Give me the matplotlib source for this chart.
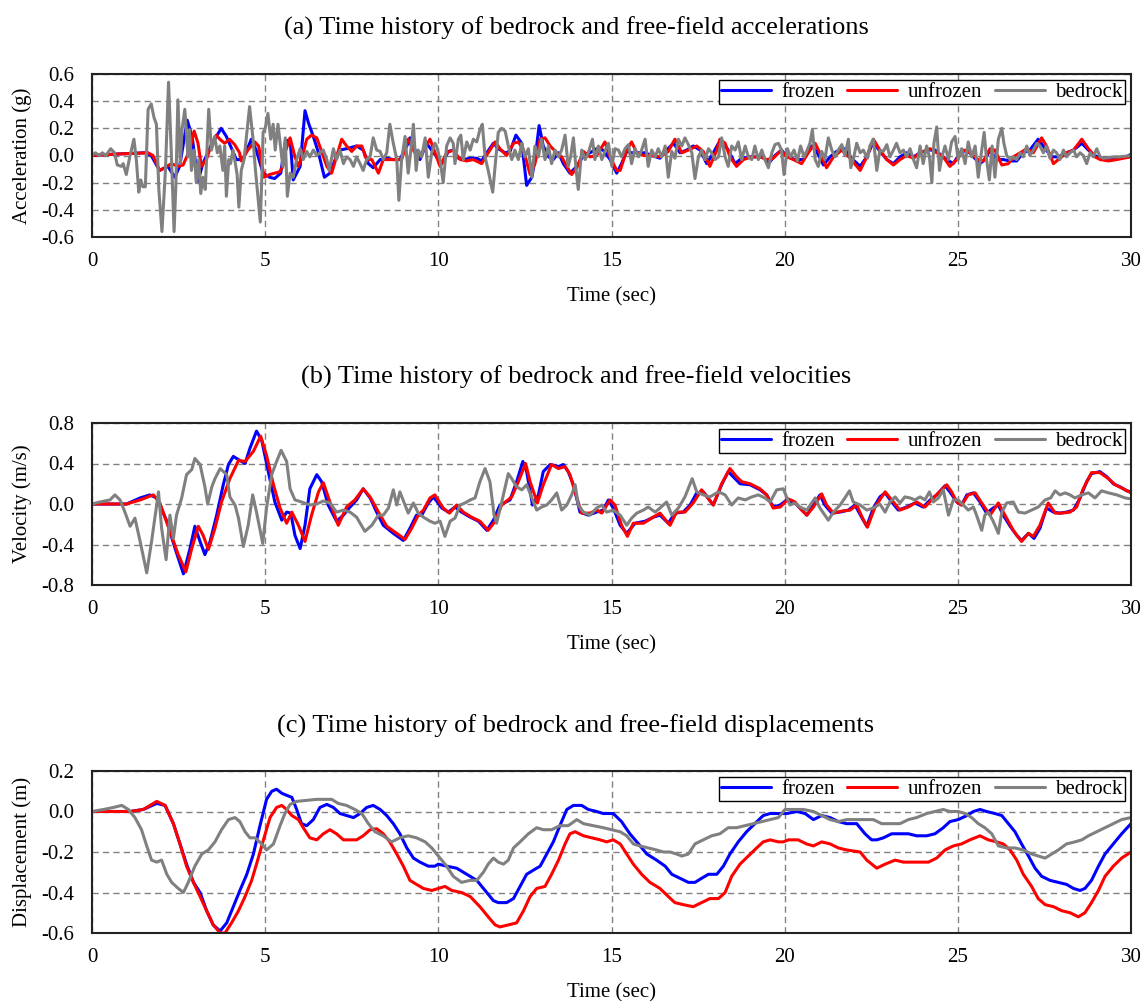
import numpy as np
import matplotlib
matplotlib.use('Agg')
import matplotlib.pyplot as plt
from matplotlib.ticker import FormatStrFormatter, FixedLocator

plt.rcParams['font.family'] = ['Liberation Serif', 'DejaVu Serif']
plt.rcParams['axes.unicode_minus'] = False

# ---------------- (a) accelerations (g) : (time s, value) ----------------
acc_frozen = [(0, 0), (0.65, 0.01), (1.52, 0.02), (1.71, 0.0), (1.95, -0.11), (2.19, -0.08), (2.39, -0.16),
    (2.53, -0.08), (2.75, 0.26), (2.89, 0.14), (3.06, -0.19), (3.20, -0.06), (3.45, 0.08), (3.73, 0.20),
    (3.88, 0.14), (4.17, -0.03), (4.36, -0.03), (4.60, 0.12), (4.74, 0.04), (4.94, -0.13), (5.13, -0.16),
    (5.27, -0.17), (5.45, -0.13), (5.58, 0.10), (5.72, 0.12), (5.81, -0.18), (6.01, -0.08), (6.15, 0.33),
    (6.25, 0.24), (6.39, 0.14), (6.54, 0.02), (6.71, -0.16), (6.87, -0.13), (7.02, -0.03), (7.16, 0.04),
    (7.35, 0.05), (7.64, 0.07), (7.83, 0.04), (7.98, -0.06), (8.12, -0.09), (8.32, -0.03), (8.51, -0.02),
    (8.70, -0.03), (8.89, -0.03), (9.09, 0.07), (9.18, 0.13), (9.33, 0.04), (9.47, -0.03), (9.66, 0.09),
    (9.95, -0.01), (10.10, -0.06), (10.29, 0.03), (10.43, 0.04), (10.58, -0.02), (10.72, -0.03),
    (10.92, -0.02), (11.11, -0.02), (11.25, -0.04), (11.40, 0.02), (11.59, 0.09), (11.73, 0.05),
    (11.93, 0.02), (12.07, 0.03), (12.24, 0.15), (12.41, 0.09), (12.55, -0.22), (12.70, -0.16),
    (12.79, -0.03), (12.91, 0.22), (13.03, 0.07), (13.18, -0.01), (13.32, -0.03), (13.47, 0.02),
    (13.61, -0.06), (13.80, -0.13), (14.0, -0.08), (14.19, 0.0), (14.38, 0.02), (14.57, 0.05),
    (14.76, 0.04), (14.96, -0.03), (15.15, -0.13), (15.29, -0.06), (15.44, 0.03), (15.58, 0.02),
    (15.78, 0.02), (15.97, 0.02), (16.16, 0.0), (16.40, -0.02), (16.59, 0.04), (16.79, 0.09), (16.98, 0.02),
    (17.17, 0.04), (17.36, 0.07), (17.56, 0.04), (17.75, -0.06), (17.94, 0.02), (18.09, 0.09), (18.23, 0.09),
    (18.37, 0.04), (18.57, -0.06), (18.76, -0.02), (19.0, -0.01), (19.19, -0.01), (19.38, -0.01),
    (19.53, -0.06), (19.72, 0.0), (19.91, 0.04), (20.06, -0.01), (20.30, -0.03), (20.54, -0.03),
    (20.78, 0.07), (20.92, 0.03), (21.12, -0.07), (21.31, -0.01), (21.50, 0.03), (21.74, 0.05),
    (21.93, -0.02), (22.18, -0.08), (22.37, -0.01), (22.56, 0.10), (22.75, 0.03), (22.95, -0.03),
    (23.14, -0.06), (23.33, -0.01), (23.52, 0.02), (23.72, -0.01), (23.91, 0.02), (24.15, 0.04),
    (24.34, 0.04), (24.53, 0.0), (24.68, -0.03), (24.87, -0.06), (25.06, 0.02), (25.26, 0.04),
    (25.45, -0.01), (25.64, -0.06), (25.78, -0.03), (25.93, 0.04), (26.12, -0.03), (26.31, -0.03),
    (26.51, -0.04), (26.70, -0.04), (26.89, 0.02), (27.08, 0.04), (27.32, 0.12), (27.52, 0.05),
    (27.71, -0.01), (27.90, -0.01), (28.14, 0.02), (28.34, 0.04), (28.58, 0.09), (28.77, 0.04),
    (28.96, 0.0), (29.11, -0.02), (29.49, -0.02), (29.87, -0.01), (30.0, 0.01)]

acc_unfrozen = [(0, 0), (0.65, 0.01), (1.62, 0.02), (1.76, 0.0), (1.95, -0.11), (2.10, -0.09), (2.29, -0.06),
    (2.48, -0.08), (2.63, -0.07), (2.82, 0.04), (2.95, 0.18), (3.06, 0.09), (3.16, -0.08), (3.30, -0.03),
    (3.45, 0.08), (3.59, 0.15), (3.69, 0.12), (3.83, 0.09), (3.97, 0.12), (4.12, 0.08), (4.26, 0.02),
    (4.31, -0.04), (4.50, 0.04), (4.70, 0.10), (4.81, 0.07), (4.97, -0.16), (5.13, -0.14), (5.27, -0.13),
    (5.42, -0.12), (5.51, -0.08), (5.57, 0.02), (5.72, 0.13), (5.86, -0.01), (5.96, -0.08), (6.10, 0.02),
    (6.20, 0.12), (6.34, 0.15), (6.49, 0.13), (6.63, 0.03), (6.78, -0.08), (6.92, -0.13), (7.06, -0.01),
    (7.21, 0.12), (7.35, 0.07), (7.50, 0.03), (7.64, 0.07), (7.79, 0.07), (7.93, -0.03), (8.08, -0.03),
    (8.27, -0.13), (8.41, -0.03), (8.60, -0.03), (8.80, -0.03), (8.94, -0.03), (9.13, 0.12), (9.28, 0.04),
    (9.42, -0.02), (9.57, 0.04), (9.76, 0.12), (9.95, -0.01), (10.05, -0.08), (10.24, 0.02), (10.43, 0.04),
    (10.63, -0.03), (10.82, -0.04), (11.01, -0.03), (11.25, -0.06), (11.44, 0.02), (11.64, 0.10),
    (11.78, 0.05), (11.97, 0.0), (12.17, 0.09), (12.31, 0.10), (12.46, 0.04), (12.65, -0.14), (12.79, -0.06),
    (12.94, 0.12), (13.08, 0.13), (13.23, 0.07), (13.42, 0.02), (13.56, -0.01), (13.71, -0.08),
    (13.85, -0.14), (14.0, -0.09), (14.19, 0.03), (14.38, -0.01), (14.57, 0.0), (14.81, 0.10),
    (14.96, -0.01), (15.15, -0.11), (15.25, -0.11), (15.44, 0.04), (15.58, 0.10), (15.73, 0.02),
    (15.92, 0.0), (16.16, 0.0), (16.40, -0.01), (16.64, 0.03), (16.83, 0.12), (17.03, 0.02), (17.22, 0.04),
    (17.46, 0.07), (17.65, 0.03), (17.84, -0.08), (18.04, 0.04), (18.13, 0.12), (18.28, 0.09),
    (18.42, -0.01), (18.61, -0.08), (18.81, -0.03), (19.05, -0.01), (19.29, -0.01), (19.48, -0.03),
    (19.67, -0.02), (19.91, 0.04), (20.01, 0.0), (20.25, -0.03), (20.49, -0.06), (20.68, 0.02),
    (20.88, 0.09), (21.07, -0.01), (21.21, -0.09), (21.41, -0.01), (21.65, 0.04), (21.89, -0.02),
    (22.18, -0.11), (22.37, -0.01), (22.56, 0.12), (22.75, 0.04), (22.95, -0.03), (23.14, -0.07),
    (23.33, -0.03), (23.52, 0.0), (23.72, -0.02), (23.91, 0.02), (24.20, 0.05), (24.39, 0.02),
    (24.58, -0.01), (24.77, -0.08), (24.97, -0.03), (25.16, 0.04), (25.35, 0.02), (25.59, -0.03),
    (25.74, -0.04), (25.93, 0.05), (26.07, 0.04), (26.27, -0.07), (26.46, -0.06), (26.60, -0.01),
    (26.80, 0.02), (26.99, 0.05), (27.18, 0.02), (27.42, 0.13), (27.56, 0.07), (27.76, -0.06),
    (27.95, -0.02), (28.14, 0.02), (28.34, 0.04), (28.58, 0.12), (28.77, 0.05), (28.96, -0.01),
    (29.11, -0.03), (29.35, -0.04), (29.59, -0.03), (29.78, -0.02), (30.0, -0.01)]

acc_bedrock = [(0, 0), (0.1, 0.02), (0.2, 0.0), (0.3, 0.02), (0.4, 0.0), (0.54, 0.05), (0.65, 0.02),
    (0.73, -0.07), (0.85, -0.08), (0.90, -0.06), (0.99, -0.14), (1.09, -0.01), (1.21, 0.12), (1.28, -0.03),
    (1.35, -0.27), (1.41, -0.18), (1.47, -0.23), (1.54, -0.23), (1.62, 0.34), (1.71, 0.38), (1.79, 0.28),
    (1.86, 0.23), (1.93, -0.25), (2.02, -0.56), (2.12, -0.11), (2.21, 0.54), (2.29, 0.02), (2.37, -0.56),
    (2.42, -0.23), (2.48, 0.41), (2.55, -0.06), (2.60, 0.19), (2.68, 0.34), (2.73, 0.14), (2.77, -0.01),
    (2.82, 0.19), (2.87, -0.11), (2.95, 0.04), (3.01, -0.20), (3.08, -0.03), (3.14, -0.28), (3.20, -0.16),
    (3.27, -0.25), (3.37, 0.34), (3.45, 0.04), (3.54, 0.14), (3.62, 0.02), (3.69, 0.07), (3.78, -0.11),
    (3.83, 0.07), (3.88, -0.30), (3.95, -0.03), (4.00, -0.06), (4.07, 0.04), (4.12, -0.03), (4.19, -0.14),
    (4.24, -0.38), (4.31, -0.11), (4.39, -0.03), (4.46, 0.14), (4.55, 0.36), (4.60, 0.24), (4.65, 0.12),
    (4.72, -0.11), (4.79, -0.30), (4.86, -0.49), (4.91, -0.11), (4.94, 0.17), (5.00, 0.20), (5.08, 0.31),
    (5.16, 0.12), (5.23, 0.23), (5.29, 0.04), (5.37, 0.23), (5.45, 0.05), (5.51, -0.08), (5.58, 0.13),
    (5.64, -0.30), (5.72, -0.13), (5.81, -0.16), (5.91, -0.03), (6.01, 0.05), (6.10, -0.03), (6.20, 0.03),
    (6.29, -0.01), (6.39, 0.04), (6.49, 0.0), (6.58, 0.02), (6.68, 0.04), (6.78, -0.03), (6.85, -0.11),
    (6.97, 0.05), (7.06, -0.03), (7.16, 0.04), (7.26, -0.06), (7.35, -0.01), (7.45, -0.03), (7.55, -0.08),
    (7.64, -0.01), (7.74, -0.06), (7.83, -0.11), (7.93, -0.03), (8.03, -0.01), (8.12, 0.13), (8.22, 0.04),
    (8.32, 0.03), (8.41, -0.03), (8.51, 0.02), (8.60, 0.23), (8.70, 0.09), (8.80, -0.03), (8.86, -0.33),
    (8.94, -0.03), (9.04, 0.14), (9.13, -0.13), (9.23, 0.09), (9.28, 0.23), (9.36, -0.11), (9.42, 0.04),
    (9.52, -0.01), (9.62, 0.13), (9.71, -0.16), (9.81, 0.02), (9.90, 0.09), (9.95, 0.07), (10.05, -0.03),
    (10.14, -0.20), (10.24, 0.07), (10.34, 0.13), (10.43, 0.09), (10.48, -0.06), (10.58, 0.12),
    (10.65, 0.15), (10.72, -0.03), (10.82, 0.10), (10.92, 0.04), (11.01, 0.12), (11.11, 0.10),
    (11.20, 0.19), (11.27, 0.23), (11.35, -0.01), (11.44, -0.11), (11.57, -0.27), (11.64, -0.08),
    (11.73, 0.17), (11.83, 0.20), (11.93, 0.18), (12.02, 0.07), (12.12, -0.03), (12.21, 0.04),
    (12.31, -0.03), (12.41, 0.09), (12.50, -0.01), (12.60, 0.05), (12.70, -0.16), (12.79, 0.07),
    (12.89, -0.01), (12.98, 0.12), (13.08, -0.03), (13.18, 0.07), (13.27, -0.06), (13.37, 0.04),
    (13.47, -0.01), (13.56, 0.04), (13.66, 0.15), (13.75, -0.08), (13.82, -0.01), (13.90, 0.13),
    (13.98, -0.11), (14.04, -0.25), (14.14, 0.04), (14.24, -0.03), (14.33, 0.02), (14.45, 0.12),
    (14.52, -0.03), (14.62, 0.07), (14.72, -0.03), (14.81, 0.03), (14.91, 0.09), (15.01, -0.08),
    (15.10, 0.05), (15.20, 0.04), (15.29, -0.01), (15.39, 0.05), (15.49, 0.08), (15.58, -0.06),
    (15.68, 0.05), (15.78, -0.01), (15.87, 0.04), (15.97, 0.12), (16.06, -0.08), (16.16, 0.04),
    (16.26, -0.01), (16.35, 0.05), (16.45, -0.01), (16.55, 0.07), (16.64, -0.16), (16.74, 0.03),
    (16.83, -0.02), (16.93, 0.12), (17.03, 0.07), (17.12, 0.13), (17.22, 0.08), (17.32, 0.02),
    (17.41, -0.17), (17.51, -0.01), (17.60, 0.04), (17.70, -0.03), (17.80, 0.05), (17.89, 0.02),
    (17.99, -0.03), (18.09, -0.01), (18.18, 0.13), (18.28, -0.01), (18.37, -0.08), (18.47, 0.07),
    (18.57, 0.04), (18.66, 0.10), (18.76, -0.03), (18.86, 0.07), (18.95, -0.01), (19.05, -0.03),
    (19.14, 0.07), (19.24, -0.03), (19.34, 0.04), (19.43, -0.03), (19.53, -0.09), (19.63, 0.02),
    (19.72, 0.08), (19.82, 0.09), (19.91, 0.04), (19.98, -0.14), (20.08, 0.05), (20.17, -0.01),
    (20.27, 0.04), (20.37, -0.04), (20.46, 0.07), (20.56, -0.01), (20.65, 0.04), (20.73, 0.09),
    (20.80, 0.19), (20.88, -0.03), (20.97, -0.08), (21.07, 0.03), (21.16, -0.03), (21.26, 0.13),
    (21.36, 0.04), (21.45, -0.01), (21.55, 0.04), (21.65, 0.08), (21.74, 0.0), (21.84, 0.12),
    (21.91, -0.09), (21.98, -0.03), (22.08, 0.09), (22.18, 0.02), (22.27, 0.04), (22.39, -0.02),
    (22.46, 0.07), (22.56, 0.12), (22.66, -0.11), (22.75, 0.04), (22.85, 0.03), (22.95, 0.08),
    (23.04, -0.01), (23.14, 0.04), (23.23, 0.09), (23.33, 0.02), (23.43, 0.04), (23.52, -0.01),
    (23.62, 0.05), (23.72, -0.03), (23.81, -0.09), (23.91, 0.07), (24.0, -0.06), (24.10, 0.07),
    (24.18, -0.01), (24.25, -0.20), (24.31, 0.09), (24.39, 0.21), (24.47, -0.11), (24.54, -0.01),
    (24.63, 0.07), (24.73, -0.03), (24.82, 0.10), (24.92, 0.14), (25.01, -0.03), (25.11, 0.05),
    (25.21, -0.06), (25.30, 0.10), (25.40, -0.01), (25.50, 0.07), (25.59, -0.16), (25.69, 0.04),
    (25.76, 0.17), (25.83, -0.03), (25.91, -0.18), (25.99, 0.07), (26.07, -0.16), (26.17, 0.12),
    (26.27, 0.20), (26.33, 0.09), (26.41, 0.0), (26.51, -0.03), (26.60, -0.01), (26.70, -0.03),
    (26.80, 0.02), (26.89, -0.01), (26.99, 0.07), (27.08, 0.0), (27.18, 0.04), (27.28, 0.09),
    (27.37, 0.07), (27.47, 0.02), (27.56, 0.07), (27.66, -0.02), (27.76, 0.04), (27.85, 0.02),
    (27.95, -0.03), (28.05, 0.04), (28.14, -0.01), (28.24, 0.02), (28.34, 0.04), (28.43, -0.01),
    (28.53, 0.02), (28.62, 0.0), (28.72, -0.06), (28.82, 0.02), (28.91, -0.01), (29.01, 0.05),
    (29.11, -0.01), (29.20, -0.02), (29.49, -0.01), (29.68, -0.01), (30.0, 0.0)]

# ---------------- (b) velocities (m/s) ----------------
vel_frozen = [(0, 0), (1.0, 0.0), (1.39, 0.06), (1.67, 0.09), (1.87, 0.06), (2.16, -0.17), (2.40, -0.44),
    (2.64, -0.69), (2.83, -0.44), (2.97, -0.22), (3.12, -0.37), (3.26, -0.50), (3.41, -0.37), (3.60, -0.11),
    (3.79, 0.19), (3.94, 0.39), (4.08, 0.47), (4.27, 0.43), (4.42, 0.40), (4.56, 0.55), (4.75, 0.72),
    (4.90, 0.63), (5.09, 0.32), (5.28, 0.02), (5.48, -0.16), (5.62, -0.08), (5.74, -0.09), (5.86, -0.31),
    (6.01, -0.44), (6.15, -0.21), (6.29, 0.15), (6.49, 0.29), (6.63, 0.22), (6.82, -0.01), (7.06, -0.17),
    (7.26, -0.11), (7.45, -0.03), (7.64, 0.04), (7.83, 0.15), (8.03, 0.06), (8.22, -0.08), (8.41, -0.21),
    (8.70, -0.29), (8.99, -0.36), (9.18, -0.24), (9.37, -0.11), (9.52, -0.11), (9.71, 0.01), (9.86, 0.07),
    (10.10, -0.04), (10.29, -0.08), (10.48, -0.03), (10.67, -0.08), (10.92, -0.13), (11.16, -0.17),
    (11.40, -0.26), (11.59, -0.16), (11.78, -0.01), (12.07, 0.04), (12.26, 0.22), (12.44, 0.42),
    (12.55, 0.32), (12.72, -0.01), (12.89, 0.09), (13.03, 0.32), (13.23, 0.39), (13.47, 0.37),
    (13.61, 0.39), (13.75, 0.32), (13.90, 0.19), (14.09, -0.08), (14.33, -0.11), (14.57, -0.08),
    (14.76, -0.06), (14.91, 0.04), (15.05, -0.04), (15.25, -0.21), (15.44, -0.29), (15.68, -0.19),
    (15.97, -0.17), (16.21, -0.13), (16.40, -0.11), (16.64, -0.19), (16.83, -0.09), (17.07, -0.08),
    (17.27, -0.01), (17.46, 0.11), (17.65, 0.12), (17.94, -0.01), (18.18, 0.19), (18.37, 0.32),
    (18.57, 0.25), (18.71, 0.20), (19.0, 0.19), (19.29, 0.14), (19.48, 0.09), (19.67, -0.03),
    (19.87, -0.01), (20.06, 0.04), (20.30, 0.01), (20.44, -0.04), (20.64, -0.11), (20.83, -0.01),
    (21.02, 0.09), (21.16, -0.01), (21.36, -0.09), (21.60, -0.08), (21.84, -0.06), (22.03, -0.01),
    (22.22, -0.13), (22.37, -0.22), (22.56, -0.04), (22.75, 0.07), (22.90, 0.11), (23.09, 0.02),
    (23.28, -0.06), (23.52, -0.03), (23.76, 0.01), (24.0, -0.03), (24.20, 0.04), (24.39, 0.09),
    (24.63, 0.18), (24.77, 0.12), (24.97, 0.02), (25.11, -0.01), (25.26, 0.09), (25.45, 0.11),
    (25.64, 0.02), (25.83, -0.09), (26.02, -0.04), (26.17, -0.01), (26.31, -0.11), (26.51, -0.22),
    (26.70, -0.31), (26.84, -0.36), (27.04, -0.29), (27.20, -0.34), (27.37, -0.24), (27.56, -0.04),
    (27.76, -0.08), (27.95, -0.09), (28.14, -0.08), (28.34, -0.06), (28.53, 0.06), (28.72, 0.22),
    (28.86, 0.30), (29.10, 0.32), (29.30, 0.27), (29.49, 0.20), (29.68, 0.17), (29.88, 0.13), (30.0, 0.12)]

vel_unfrozen = [(0, 0), (1.0, 0.0), (1.39, 0.04), (1.77, 0.09), (1.96, 0.01), (2.25, -0.27), (2.49, -0.50),
    (2.71, -0.67), (2.88, -0.44), (3.07, -0.22), (3.21, -0.31), (3.36, -0.45), (3.55, -0.24), (3.74, 0.02),
    (3.98, 0.25), (4.23, 0.43), (4.42, 0.42), (4.66, 0.52), (4.87, 0.67), (5.04, 0.48), (5.24, 0.19),
    (5.43, -0.04), (5.62, -0.19), (5.77, -0.08), (5.96, -0.21), (6.15, -0.37), (6.34, -0.11), (6.54, 0.12),
    (6.68, 0.21), (6.87, 0.02), (7.11, -0.21), (7.35, -0.03), (7.59, 0.04), (7.83, 0.15), (8.03, 0.07),
    (8.27, -0.08), (8.51, -0.22), (8.80, -0.29), (9.04, -0.35), (9.23, -0.24), (9.42, -0.11), (9.57, -0.06),
    (9.76, 0.06), (9.90, 0.09), (10.14, -0.04), (10.32, -0.09), (10.53, -0.01), (10.72, -0.08),
    (10.96, -0.13), (11.20, -0.17), (11.44, -0.26), (11.64, -0.17), (11.83, -0.01), (12.12, 0.07),
    (12.31, 0.22), (12.52, 0.40), (12.65, 0.22), (12.86, 0.01), (13.03, 0.19), (13.27, 0.39),
    (13.47, 0.35), (13.66, 0.37), (13.80, 0.29), (14.0, 0.06), (14.14, -0.09), (14.38, -0.09),
    (14.57, -0.06), (14.72, -0.09), (14.96, 0.04), (15.10, -0.01), (15.29, -0.21), (15.46, -0.32),
    (15.63, -0.19), (15.92, -0.19), (16.16, -0.14), (16.40, -0.09), (16.69, -0.21), (16.88, -0.08),
    (17.12, -0.08), (17.36, 0.01), (17.60, 0.14), (17.94, -0.01), (18.18, 0.20), (18.42, 0.35),
    (18.61, 0.27), (18.76, 0.22), (19.0, 0.20), (19.29, 0.15), (19.48, 0.09), (19.67, -0.04),
    (19.87, -0.03), (20.11, 0.05), (20.30, 0.02), (20.49, -0.06), (20.64, -0.11), (20.83, -0.03),
    (21.07, 0.10), (21.21, -0.01), (21.41, -0.09), (21.65, -0.07), (21.89, -0.06), (22.08, -0.01),
    (22.25, -0.14), (22.39, -0.23), (22.61, -0.03), (22.90, 0.12), (23.09, 0.04), (23.33, -0.06),
    (23.57, -0.03), (23.81, 0.02), (24.05, -0.03), (24.24, 0.04), (24.44, 0.11), (24.68, 0.19),
    (24.82, 0.12), (24.97, 0.02), (25.11, -0.01), (25.30, 0.09), (25.50, 0.11), (25.69, 0.01),
    (25.93, -0.11), (26.17, 0.01), (26.36, -0.11), (26.60, -0.26), (26.84, -0.37), (27.04, -0.29),
    (27.18, -0.32), (27.37, -0.21), (27.61, 0.01), (27.81, -0.09), (28.0, -0.09), (28.24, -0.08),
    (28.43, -0.03), (28.62, 0.15), (28.86, 0.31), (29.10, 0.31), (29.35, 0.25), (29.54, 0.19),
    (29.78, 0.15), (30.0, 0.11)]

vel_bedrock = [(0, 0), (0.23, 0.02), (0.52, 0.04), (0.66, 0.09), (0.81, 0.04), (0.95, -0.08), (1.10, -0.22),
    (1.24, -0.14), (1.39, -0.37), (1.58, -0.68), (1.72, -0.37), (1.92, 0.12), (2.01, -0.24), (2.14, -0.55),
    (2.25, -0.11), (2.35, -0.34), (2.44, -0.11), (2.59, 0.06), (2.73, 0.29), (2.88, 0.34), (2.97, 0.45),
    (3.12, 0.39), (3.26, 0.17), (3.34, 0.0), (3.46, 0.17), (3.55, 0.25), (3.70, 0.35), (3.89, 0.29),
    (3.98, 0.07), (4.13, -0.01), (4.23, -0.14), (4.37, -0.42), (4.51, -0.21), (4.64, 0.09), (4.75, -0.08),
    (4.93, -0.39), (5.04, -0.04), (5.19, 0.29), (5.33, 0.42), (5.46, 0.53), (5.62, 0.42), (5.72, 0.15),
    (5.86, 0.04), (6.05, 0.02), (6.29, -0.01), (6.49, 0.0), (6.68, 0.03), (6.87, 0.01), (7.06, -0.08),
    (7.26, -0.06), (7.45, -0.08), (7.64, -0.13), (7.88, -0.27), (8.08, -0.21), (8.27, -0.11), (8.41, -0.11),
    (8.56, -0.04), (8.70, 0.14), (8.80, -0.01), (8.89, 0.12), (9.04, -0.01), (9.13, -0.09), (9.28, 0.01),
    (9.42, -0.09), (9.57, -0.13), (9.76, -0.17), (9.90, -0.19), (10.05, -0.17), (10.19, -0.32),
    (10.34, -0.17), (10.48, -0.14), (10.63, -0.01), (10.77, 0.01), (10.92, 0.04), (11.06, 0.06),
    (11.20, 0.22), (11.35, 0.35), (11.49, 0.22), (11.61, -0.11), (11.68, -0.19), (11.83, 0.02),
    (12.02, 0.30), (12.12, 0.25), (12.26, 0.17), (12.41, 0.14), (12.55, 0.19), (12.70, 0.06),
    (12.84, -0.06), (12.98, -0.03), (13.13, -0.01), (13.27, 0.04), (13.42, 0.11), (13.56, -0.06),
    (13.71, -0.01), (13.85, 0.09), (13.95, 0.19), (14.04, -0.01), (14.19, -0.08), (14.38, -0.11),
    (14.57, -0.04), (14.72, -0.01), (14.86, -0.08), (15.05, -0.06), (15.25, -0.11), (15.44, -0.21),
    (15.58, -0.14), (15.73, -0.09), (15.92, -0.06), (16.06, -0.03), (16.26, -0.08), (16.40, -0.04),
    (16.59, 0.02), (16.74, -0.11), (16.93, -0.04), (17.12, 0.07), (17.33, 0.25), (17.46, 0.12),
    (17.65, 0.09), (17.84, 0.07), (18.09, 0.12), (18.28, 0.09), (18.47, -0.01), (18.66, 0.06),
    (18.86, 0.04), (19.05, 0.07), (19.24, 0.09), (19.43, 0.06), (19.58, 0.02), (19.77, 0.14),
    (19.96, 0.15), (20.15, -0.01), (20.30, 0.01), (20.44, -0.03), (20.64, -0.06), (20.78, 0.01),
    (20.88, 0.06), (21.02, -0.04), (21.26, -0.16), (21.41, -0.08), (21.60, -0.01), (21.74, 0.06),
    (21.87, 0.13), (21.98, 0.02), (22.18, -0.01), (22.37, -0.06), (22.56, -0.04), (22.75, 0.0),
    (22.90, -0.08), (23.04, 0.02), (23.19, 0.07), (23.33, 0.01), (23.47, 0.07), (23.62, 0.06),
    (23.76, 0.04), (23.91, 0.07), (24.05, 0.04), (24.18, 0.12), (24.29, 0.02), (24.44, 0.06),
    (24.58, 0.14), (24.73, -0.11), (24.87, 0.04), (25.01, 0.04), (25.16, -0.01), (25.30, -0.06),
    (25.45, -0.03), (25.54, -0.11), (25.69, -0.26), (25.78, -0.11), (25.88, -0.08), (26.02, -0.17),
    (26.17, -0.29), (26.27, -0.08), (26.41, 0.01), (26.60, 0.02), (26.75, -0.08), (26.94, -0.09),
    (27.13, -0.06), (27.32, -0.03), (27.52, 0.04), (27.68, 0.06), (27.81, 0.13), (27.95, 0.09),
    (28.10, 0.11), (28.24, 0.09), (28.38, 0.06), (28.58, 0.09), (28.77, 0.11), (28.96, 0.06),
    (29.15, 0.13), (29.35, 0.11), (29.59, 0.09), (29.83, 0.06), (30.0, 0.05)]

# ---------------- (c) displacements (m) ----------------
dis_frozen = [(0, 0), (0.62, 0.0), (1.10, 0.0), (1.48, 0.01), (1.87, 0.04), (2.11, 0.03), (2.35, -0.06),
    (2.54, -0.16), (2.73, -0.26), (2.93, -0.35), (3.12, -0.40), (3.31, -0.49), (3.50, -0.56), (3.70, -0.59),
    (3.89, -0.55), (4.08, -0.47), (4.27, -0.39), (4.47, -0.31), (4.66, -0.21), (4.85, -0.07), (5.04, 0.06),
    (5.19, 0.10), (5.33, 0.11), (5.48, 0.09), (5.62, 0.08), (5.77, 0.07), (5.91, 0.01), (6.05, -0.06),
    (6.20, -0.07), (6.39, -0.04), (6.58, 0.02), (6.78, 0.035), (6.97, 0.02), (7.16, -0.01), (7.35, -0.02),
    (7.55, -0.03), (7.74, -0.01), (7.93, 0.02), (8.12, 0.03), (8.32, 0.01), (8.51, -0.02), (8.70, -0.06),
    (8.89, -0.11), (9.09, -0.18), (9.28, -0.23), (9.47, -0.25), (9.71, -0.27), (9.90, -0.27), (10.0, -0.26),
    (10.24, -0.27), (10.53, -0.28), (10.82, -0.31), (11.11, -0.34), (11.35, -0.39), (11.59, -0.44),
    (11.73, -0.45), (11.97, -0.45), (12.17, -0.43), (12.36, -0.37), (12.55, -0.31), (12.74, -0.29),
    (12.94, -0.27), (13.13, -0.21), (13.32, -0.15), (13.51, -0.07), (13.71, 0.01), (13.90, 0.03),
    (14.14, 0.03), (14.33, 0.01), (14.57, 0.0), (14.76, -0.01), (15.05, -0.01), (15.29, -0.05),
    (15.53, -0.11), (15.78, -0.16), (16.02, -0.21), (16.30, -0.24), (16.55, -0.27), (16.74, -0.31),
    (16.98, -0.33), (17.22, -0.35), (17.41, -0.35), (17.60, -0.33), (17.80, -0.31), (18.04, -0.31),
    (18.23, -0.27), (18.42, -0.21), (18.66, -0.15), (18.90, -0.10), (19.14, -0.06), (19.38, -0.02),
    (19.58, -0.01), (19.77, -0.01), (19.96, -0.01), (20.06, -0.01), (20.35, 0.0), (20.59, -0.01),
    (20.83, -0.04), (21.07, -0.02), (21.31, -0.03), (21.55, -0.05), (21.79, -0.06), (22.08, -0.06),
    (22.32, -0.11), (22.51, -0.14), (22.66, -0.14), (22.85, -0.13), (23.09, -0.11), (23.33, -0.11),
    (23.57, -0.11), (23.81, -0.12), (24.10, -0.12), (24.34, -0.11), (24.58, -0.08), (24.77, -0.05),
    (25.01, -0.04), (25.26, -0.02), (25.45, 0.0), (25.64, 0.01), (25.83, 0.0), (26.07, -0.01),
    (26.27, -0.02), (26.46, -0.06), (26.65, -0.10), (26.84, -0.16), (27.04, -0.22), (27.23, -0.28),
    (27.42, -0.32), (27.66, -0.34), (27.90, -0.35), (28.14, -0.36), (28.34, -0.38), (28.53, -0.39),
    (28.67, -0.38), (28.86, -0.34), (29.06, -0.27), (29.25, -0.21), (29.49, -0.16), (29.73, -0.11),
    (30.0, -0.06)]

dis_unfrozen = [(0, 0), (0.62, 0.0), (1.10, 0.0), (1.48, 0.01), (1.87, 0.05), (2.11, 0.03), (2.35, -0.06),
    (2.54, -0.16), (2.73, -0.27), (2.93, -0.35), (3.12, -0.42), (3.31, -0.49), (3.50, -0.56), (3.70, -0.60),
    (3.84, -0.60), (4.03, -0.55), (4.23, -0.49), (4.42, -0.42), (4.61, -0.34), (4.75, -0.26), (4.95, -0.14),
    (5.14, -0.03), (5.33, 0.02), (5.48, 0.03), (5.62, 0.01), (5.77, -0.02), (5.96, -0.04), (6.10, -0.08),
    (6.29, -0.13), (6.49, -0.14), (6.68, -0.11), (6.87, -0.09), (7.06, -0.11), (7.26, -0.14), (7.45, -0.14),
    (7.64, -0.14), (7.83, -0.12), (8.03, -0.09), (8.22, -0.085), (8.41, -0.11), (8.60, -0.15),
    (8.80, -0.21), (8.99, -0.27), (9.18, -0.34), (9.37, -0.36), (9.57, -0.38), (9.81, -0.39),
    (10.0, -0.38), (10.19, -0.37), (10.39, -0.39), (10.67, -0.40), (10.92, -0.42), (11.20, -0.47),
    (11.44, -0.52), (11.64, -0.56), (11.78, -0.57), (12.02, -0.56), (12.26, -0.55), (12.46, -0.49),
    (12.65, -0.42), (12.84, -0.38), (13.08, -0.37), (13.27, -0.31), (13.47, -0.24), (13.66, -0.16),
    (13.80, -0.11), (13.95, -0.10), (14.19, -0.12), (14.43, -0.13), (14.67, -0.14), (14.86, -0.15),
    (15.05, -0.14), (15.25, -0.16), (15.44, -0.21), (15.63, -0.26), (15.87, -0.31), (16.11, -0.35),
    (16.40, -0.38), (16.64, -0.42), (16.83, -0.45), (17.07, -0.46), (17.36, -0.47), (17.60, -0.45),
    (17.84, -0.43), (18.09, -0.43), (18.28, -0.40), (18.47, -0.32), (18.71, -0.26), (18.95, -0.22),
    (19.19, -0.18), (19.38, -0.15), (19.58, -0.14), (19.82, -0.15), (19.96, -0.15), (20.11, -0.14),
    (20.39, -0.14), (20.63, -0.16), (20.83, -0.17), (21.07, -0.15), (21.31, -0.16), (21.55, -0.18),
    (21.79, -0.19), (22.18, -0.20), (22.37, -0.24), (22.66, -0.28), (22.90, -0.26), (23.19, -0.24),
    (23.43, -0.25), (23.72, -0.25), (24.15, -0.25), (24.39, -0.23), (24.63, -0.19), (24.87, -0.17),
    (25.11, -0.16), (25.35, -0.14), (25.64, -0.12), (25.88, -0.14), (26.12, -0.15), (26.31, -0.16),
    (26.51, -0.19), (26.70, -0.24), (26.89, -0.31), (27.13, -0.37), (27.32, -0.43), (27.52, -0.46),
    (27.76, -0.47), (28.0, -0.49), (28.24, -0.50), (28.48, -0.52), (28.67, -0.50), (28.86, -0.45),
    (29.06, -0.39), (29.25, -0.32), (29.49, -0.27), (29.73, -0.23), (30.0, -0.20)]

dis_bedrock = [(0, 0), (0.33, 0.01), (0.62, 0.02), (0.86, 0.03), (1.05, 0.01), (1.24, -0.03), (1.43, -0.09),
    (1.58, -0.17), (1.72, -0.24), (1.87, -0.25), (2.01, -0.24), (2.16, -0.31), (2.30, -0.35), (2.49, -0.38),
    (2.64, -0.40), (2.78, -0.35), (2.97, -0.27), (3.17, -0.21), (3.36, -0.19), (3.55, -0.15), (3.74, -0.09),
    (3.94, -0.04), (4.13, -0.03), (4.27, -0.05), (4.42, -0.10), (4.56, -0.13), (4.71, -0.13), (4.90, -0.16),
    (5.04, -0.19), (5.24, -0.16), (5.43, -0.07), (5.57, -0.01), (5.72, 0.035), (5.91, 0.05), (6.20, 0.055),
    (6.49, 0.06), (6.78, 0.06), (6.92, 0.06), (7.11, 0.04), (7.35, 0.03), (7.59, 0.01), (7.79, -0.01),
    (7.98, -0.06), (8.17, -0.10), (8.41, -0.12), (8.65, -0.15), (8.89, -0.13), (9.13, -0.12), (9.37, -0.13),
    (9.62, -0.15), (9.81, -0.18), (10.0, -0.22), (10.24, -0.27), (10.43, -0.32), (10.67, -0.35),
    (10.92, -0.34), (11.11, -0.34), (11.30, -0.30), (11.44, -0.26), (11.59, -0.23), (11.73, -0.25),
    (11.88, -0.26), (12.02, -0.24), (12.17, -0.18), (12.36, -0.15), (12.60, -0.11), (12.84, -0.08),
    (13.03, -0.09), (13.27, -0.09), (13.51, -0.07), (13.75, -0.07), (14.0, -0.04), (14.19, -0.06),
    (14.48, -0.07), (14.76, -0.08), (15.01, -0.09), (15.25, -0.10), (15.44, -0.12), (15.63, -0.16),
    (15.82, -0.17), (16.06, -0.18), (16.30, -0.19), (16.50, -0.20), (16.69, -0.20), (16.88, -0.21),
    (17.03, -0.22), (17.22, -0.21), (17.41, -0.16), (17.65, -0.14), (17.89, -0.12), (18.13, -0.11),
    (18.37, -0.08), (18.61, -0.08), (18.86, -0.07), (19.10, -0.06), (19.34, -0.05), (19.58, -0.04),
    (19.82, -0.03), (20.01, 0.01), (20.30, 0.01), (20.54, 0.01), (20.83, 0.0), (21.07, -0.02),
    (21.31, -0.04), (21.55, -0.05), (21.79, -0.04), (22.03, -0.04), (22.27, -0.04), (22.56, -0.04),
    (22.80, -0.06), (23.04, -0.06), (23.33, -0.06), (23.57, -0.04), (23.81, -0.03), (24.10, -0.01),
    (24.34, 0.0), (24.58, 0.01), (24.77, 0.0), (25.01, 0.0), (25.21, -0.01), (25.40, -0.03), (25.59, -0.06),
    (25.78, -0.08), (25.98, -0.11), (26.17, -0.17), (26.41, -0.18), (26.65, -0.18), (26.89, -0.19),
    (27.13, -0.21), (27.32, -0.22), (27.52, -0.23), (27.71, -0.21), (27.90, -0.19), (28.14, -0.16),
    (28.38, -0.15), (28.58, -0.14), (28.77, -0.12), (29.01, -0.10), (29.25, -0.08), (29.49, -0.06),
    (29.73, -0.04), (30.0, -0.03)]

titles = ['(a) Time history of bedrock and free-field accelerations',
          '(b) Time history of bedrock and free-field velocities',
          '(c) Time history of bedrock and free-field displacements']
ylabels = ['Acceleration (g)', 'Velocity (m/s)', 'Displacement (m)']
yticks = [[-0.6, -0.4, -0.2, 0.0, 0.2, 0.4, 0.6],
          [-0.8, -0.4, 0.0, 0.4, 0.8],
          [-0.6, -0.4, -0.2, 0.0, 0.2]]
xticks = [0, 5, 10, 15, 20, 25, 30]
series_names = ['frozen', 'unfrozen', 'bedrock']
series_colors = ['#0000FF', '#FF0000', '#808080']
panels = [(acc_frozen, acc_unfrozen, acc_bedrock),
          (vel_frozen, vel_unfrozen, vel_bedrock),
          (dis_frozen, dis_unfrozen, dis_bedrock)]

W, H = 1145, 1001
fig = plt.figure(figsize=(W / 100, H / 100), dpi=100)

# axes boxes in pixel coordinates: (left, top, right, bottom)
boxes = [(92, 74, 1131, 237), (92, 423, 1131, 585), (92, 771, 1131, 933)]
title_y = [28, 377, 726]

for i in range(3):
    l, t, r, b = boxes[i]
    ax = fig.add_axes([l / W, 1 - b / H, (r - l) / W, (b - t) / H])
    for data, name, col in zip(panels[i], series_names, series_colors):
        arr = np.array(data)
        ax.plot(arr[:, 0], arr[:, 1], color=col, lw=2.2, label=name,
                solid_joinstyle='round', solid_capstyle='round')
    ax.set_xlim(0, 30)
    ax.set_ylim(yticks[i][0], yticks[i][-1])
    ax.xaxis.set_major_locator(FixedLocator(xticks))
    ax.yaxis.set_major_locator(FixedLocator(yticks[i]))
    ax.yaxis.set_major_formatter(FormatStrFormatter('%.1f'))
    ax.xaxis.set_major_formatter(FormatStrFormatter('%d'))
    ax.grid(True, linestyle=(0, (4.5, 3)), color='#808080', lw=1.0)
    ax.set_axisbelow(True)
    ax.tick_params(axis='both', length=0, labelsize=15, colors='black')
    ax.tick_params(axis='y', pad=13)
    ax.tick_params(axis='x', pad=11)
    for s in ax.spines.values():
        s.set_linewidth(1.5)
        s.set_color('#222222')
    ax.set_ylabel(ylabels[i], fontsize=15)
    ax.yaxis.set_label_coords(-0.058, 0.5)
    ax.set_xlabel('Time (sec)', fontsize=15, va='top')
    ax.xaxis.set_label_coords(0.5, -0.31)
    leg = ax.legend(loc='upper right', ncol=3, fontsize=15, frameon=True, fancybox=False,
                    edgecolor='black', framealpha=1, borderpad=0.1, handlelength=2.4,
                    handletextpad=0.5, columnspacing=0.6, borderaxespad=0.3)
    leg.get_frame().set_linewidth(1.0)
    fig.text(576 / W, 1 - title_y[i] / H, titles[i], ha='center', va='center', fontsize=19)

fig.savefig('out.png', dpi=100)
